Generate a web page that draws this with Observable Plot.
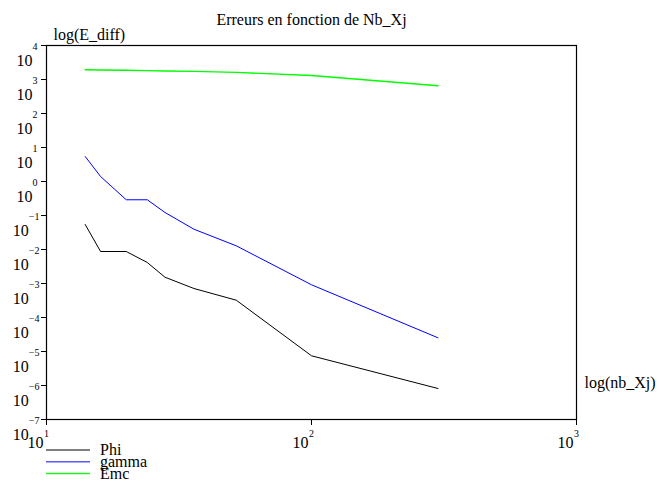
<!DOCTYPE html>
<html><head><meta charset="utf-8">
<script src="https://cdn.jsdelivr.net/npm/d3@7"></script>
<script src="https://cdn.jsdelivr.net/npm/@observablehq/plot@0.6"></script>
<style>
html,body{margin:0;padding:0;background:#fff;}
svg, svg text { font-family: "Liberation Serif", serif !important; }
</style>
</head><body><div id="chart"></div>
<script>
const nbXj = [14, 16, 20, 24, 28, 36, 52, 100, 300];
const phi = [0.0543, 0.00873, 0.00873, 0.00415, 0.00153, 7.13e-4, 3.23e-4, 7.48e-6, 8.17e-7];
const gamma = [5.43, 1.40, 0.290, 0.290, 0.1225, 0.0395, 0.01285, 9.16e-4, 2.53e-5];
const emc = [1928, 1905, 1862, 1820, 1786, 1730, 1622, 1312, 653];
const seriesNames = ["Phi", "gamma", "Emc"];
const seriesColors = ["#000000", "#0000ff", "#00ff00"];
const legendColors = ["#000000", "#5a5aff", "#22ee22"];
const xTickExp = [1, 2, 3];
const yTickExp = [4, 3, 2, 1, 0, -1, -2, -3, -4, -5, -6, -7];
const titleText = "Erreurs en fonction de Nb_Xj";
const yLabelText = "log(E_diff)";
const xLabelText = "log(nb_Xj)";

const seriesValues = [phi, gamma, emc];
const rows = [];
seriesValues.forEach((vals, i) => vals.forEach((v, j) => rows.push({series: seriesNames[i], x: nbXj[j], y: v})));

const expStr = e => (e < 0 ? "\u2212" + (-e) : String(e));
const yPos = yTickExp.filter(e => e >= 0);
const yNeg = yTickExp.filter(e => e < 0);

const svg = Plot.plot({
  width: 659, height: 486,
  marginLeft: 46, marginRight: 83, marginTop: 45, marginBottom: 67,
  style: {fontFamily: "Liberation Serif, serif", fontSize: "16px", background: "#fff", color: "#000"},
  x: {type: "log", domain: [10, 1000]},
  y: {type: "log", domain: [1e-7, 1e4]},
  color: {domain: seriesNames, range: seriesColors},
  marks: [
    Plot.frame({stroke: "#000", strokeWidth: 1.2}),
    Plot.axisX({ticks: xTickExp.map(e => 10 ** e), tickSize: 6, tickFormat: () => "", label: null, stroke: "#000"}),
    Plot.axisY({ticks: yTickExp.map(e => 10 ** e), tickSize: 5, tickFormat: () => "", label: null, stroke: "#000"}),
    // x tick labels
    Plot.text(xTickExp, {x: e => 10 ** e, frameAnchor: "bottom", text: () => "10", textAnchor: "end", dx: -3, dy: 28, fontSize: 16}),
    Plot.text(xTickExp, {x: e => 10 ** e, frameAnchor: "bottom", text: e => expStr(e), textAnchor: "middle", dy: 17, fontSize: 10}),
    // y tick labels
    Plot.text(yPos, {y: e => 10 ** e, frameAnchor: "left", text: () => "10", textAnchor: "end", dx: -14, dy: 15, fontSize: 16}),
    Plot.text(yPos, {y: e => 10 ** e, frameAnchor: "left", text: e => expStr(e), textAnchor: "start", dx: -14, dy: 1, fontSize: 10}),
    Plot.text(yNeg, {y: e => 10 ** e, frameAnchor: "left", text: () => "10", textAnchor: "end", dx: -17.7, dy: 15, fontSize: 16}),
    Plot.text(yNeg, {y: e => 10 ** e, frameAnchor: "left", text: e => expStr(e), textAnchor: "start", dx: -17.7, dy: 1, fontSize: 10}),
    // series
    Plot.line(rows.filter(d => d.series === "Phi"), {x: "x", y: "y", stroke: "series", strokeWidth: 1}),
    Plot.line(rows.filter(d => d.series === "gamma"), {x: "x", y: "y", stroke: "series", strokeWidth: 1}),
    Plot.line(rows.filter(d => d.series === "Emc"), {x: "x", y: "y", stroke: "series", strokeWidth: 1.4}),
    // titles
    Plot.text([titleText], {frameAnchor: "top", text: d => d, dy: -32, fontSize: 16}),
    Plot.text([yLabelText], {frameAnchor: "top-left", text: d => d, textAnchor: "start", dx: 7, dy: -17, fontSize: 16}),
    Plot.text([xLabelText], {frameAnchor: "bottom-right", text: d => d, textAnchor: "start", dx: 8, dy: -32, fontSize: 16})
  ]
});

// legend below the plot
const leg = d3.select(svg).append("g").attr("text-anchor", "start").attr("font-size", 16);
seriesNames.forEach((name, i) => {
  const y = 450 + i * 11.7;
  leg.append("line").attr("x1", 46).attr("x2", 90).attr("y1", y).attr("y2", y)
    .attr("stroke", legendColors[i]).attr("stroke-width", i === 0 ? 1.2 : 1.5);
  leg.append("text").attr("x", 100).attr("y", y + 5.3).attr("fill", "#000").attr("text-anchor", "start").text(name);
});

document.getElementById("chart").appendChild(svg);
</script>
</body></html>
